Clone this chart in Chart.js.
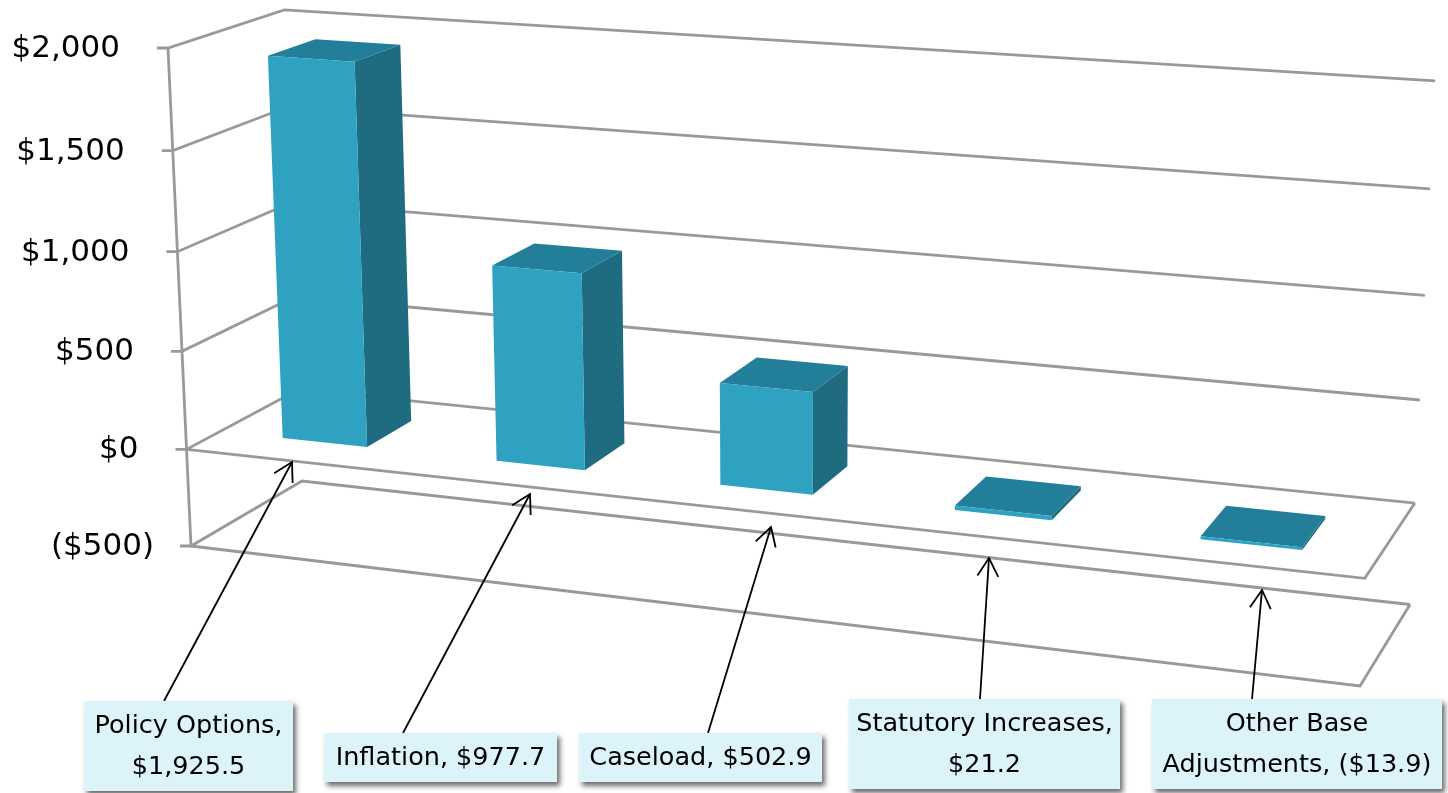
<!DOCTYPE html>
<html>
<head>
<meta charset="utf-8">
<title>Budget changes</title>
<script src="https://cdn.jsdelivr.net/npm/chart.js@4/dist/chart.umd.min.js"></script>
<style>
  html, body { margin: 0; padding: 0; background: #fff; overflow: hidden; }
  canvas { display: block; }
</style>
</head>
<body>
<canvas id="budgetChart" width="1448" height="793"></canvas>
<script>
const categories = ['Policy Options', 'Inflation', 'Caseload', 'Statutory Increases', 'Other Base Adjustments'];
const amounts = [1925.5, 977.7, 502.9, 21.2, -13.9];
const axisMin = -500;
const axisMax = 2000;
const axisStep = 500;

// how each callout text is broken into lines
const calloutBreaks = [
  ['Policy Options,', '$1,925.5'],
  ['Inflation, $977.7'],
  ['Caseload, $502.9'],
  ['Statutory Increases,', '$21.2'],
  ['Other Base', 'Adjustments, ($13.9)']
];
// box x, y, w, h and the arrow from the box edge to its tip
const calloutBoxes = [[84, 701, 209, 90], [324, 733, 233, 49], [579, 733, 243, 49], [849, 699, 271, 90], [1152, 699, 290, 90]];
const calloutArrows = [[164, 701, 292, 462], [403, 733, 530, 494], [708, 733, 771, 527], [980, 699, 989, 558], [1252, 699, 1262, 590]];

// screen corners of the floor at the lowest axis value
const floorCorners = { fl: [191, 546], fr: [1360, 686], br: [1410, 604.5], bl: [302, 481] };
// vanishing point of the vertical edges, and how fast they run towards it
const verticalVanish = [790, 13515];
const verticalRate = -0.03698;
const barDepthFront = 0.29;
const barDepthBack = 0.71;

// u along the categories, t up the value axis (0..1), d into the depth
function project(u, t, d) {
  const p0 = floorCorners.fl, p1 = floorCorners.fr, p2 = floorCorners.br, p3 = floorCorners.bl;
  const dx1 = p1[0] - p2[0], dx2 = p3[0] - p2[0], sx = p0[0] - p1[0] + p2[0] - p3[0];
  const dy1 = p1[1] - p2[1], dy2 = p3[1] - p2[1], sy = p0[1] - p1[1] + p2[1] - p3[1];
  const den = dx1 * dy2 - dx2 * dy1;
  const g = (sx * dy2 - dx2 * sy) / den;
  const h = (dx1 * sy - sx * dy1) / den;
  const a = p1[0] - p0[0] + g * p1[0], b = p3[0] - p0[0] + h * p3[0];
  const c = p1[1] - p0[1] + g * p1[1], e = p3[1] - p0[1] + h * p3[1];
  const k = t * verticalRate;
  const q = g * u + h * d + 1 + k;
  return [(a * u + b * d + p0[0] + k * verticalVanish[0]) / q, (c * u + e * d + p0[1] + k * verticalVanish[1]) / q];
}

function poly(ctx, pts, fill) {
  ctx.beginPath();
  pts.forEach((p, i) => i ? ctx.lineTo(p[0], p[1]) : ctx.moveTo(p[0], p[1]));
  ctx.closePath();
  ctx.fillStyle = fill;
  ctx.fill();
}

function line(ctx, pts) {
  ctx.beginPath();
  pts.forEach((p, i) => i ? ctx.lineTo(p[0], p[1]) : ctx.moveTo(p[0], p[1]));
  ctx.stroke();
}

const box3d = {
  id: 'box3d',
  beforeDatasetsDraw(chart) {
    const ctx = chart.ctx, y = chart.scales.y, area = chart.chartArea;
    ctx.save();
    ctx.strokeStyle = '#999999';
    ctx.lineWidth = 2.8;
    ctx.lineJoin = 'miter';
    y.ticks.forEach(tick => {
      const t = (area.bottom - y.getPixelForValue(tick.value)) / area.height;
      const fl = project(0, t, 0);
      line(ctx, [[fl[0] - 11, fl[1]], fl, project(0, t, 1), project(1, t, 1)]);
      if (tick.value <= 0) {
        line(ctx, [fl, project(1, t, 0), project(1, t, 1)]);
      }
    });
    line(ctx, [project(0, 1, 0), project(0, 0, 0)]);
    ctx.restore();
  },
  afterDatasetsDraw(chart) {
    const ctx = chart.ctx, area = chart.chartArea, y = chart.scales.y;
    const norm = px => (area.bottom - px) / area.height;
    ctx.save();
    chart.getDatasetMeta(0).data.forEach(el => {
      const u0 = (el.x - el.width / 2 - area.left) / area.width;
      const u1 = (el.x + el.width / 2 - area.left) / area.width;
      const top = norm(Math.min(el.y, el.base));
      const bot = norm(Math.max(el.y, el.base));
      const f = barDepthFront, b = barDepthBack;
      poly(ctx, [project(u0, top, f), project(u1, top, f), project(u1, top, b), project(u0, top, b)], '#237F99');
      poly(ctx, [project(u1, top, f), project(u1, top, b), project(u1, bot, b), project(u1, bot, f)], '#1F6C80');
      poly(ctx, [project(u0, top, f), project(u1, top, f), project(u1, bot, f), project(u0, bot, f)], '#2EA2C0');
    });
    ctx.restore();

    // value axis labels follow the slanted front edge
    ctx.save();
    ctx.fillStyle = '#000';
    ctx.font = '31px "DejaVu Sans"';
    ctx.textAlign = 'right';
    ctx.textBaseline = 'middle';
    y.ticks.forEach(tick => {
      const t = norm(y.getPixelForValue(tick.value));
      const p = project(0, t, 0);
      const gap = tick.label.startsWith('(') ? 37 : 48;
      ctx.fillText(tick.label, p[0] - gap, p[1] + 1);
    });
    ctx.restore();

    // callouts
    calloutBoxes.forEach((bx, i) => {
      const arrow = calloutArrows[i];
      ctx.save();
      ctx.strokeStyle = '#000';
      ctx.lineWidth = 1.8;
      const ang = Math.atan2(arrow[3] - arrow[1], arrow[2] - arrow[0]);
      line(ctx, [[arrow[0], arrow[1]], [arrow[2], arrow[3]]]);
      const wing = s => [arrow[2] - 21 * Math.cos(ang + s), arrow[3] - 21 * Math.sin(ang + s)];
      line(ctx, [wing(0.52), [arrow[2], arrow[3]], wing(-0.52)]);
      ctx.shadowColor = 'rgba(60,60,60,0.75)';
      ctx.shadowBlur = 5;
      ctx.shadowOffsetX = 3;
      ctx.shadowOffsetY = 4;
      ctx.fillStyle = '#DCF4F9';
      ctx.fillRect(bx[0], bx[1], bx[2], bx[3]);
      ctx.restore();
      ctx.save();
      ctx.fillStyle = '#000';
      ctx.font = '25.5px "DejaVu Sans"';
      ctx.textAlign = 'center';
      ctx.textBaseline = 'middle';
      const lines = calloutBreaks[i];
      const cy = bx[1] + bx[3] / 2 + 1;
      lines.forEach((txt, k) => {
        ctx.fillText(txt, bx[0] + bx[2] / 2, cy + (k - (lines.length - 1) / 2) * 41);
      });
      ctx.restore();
    });
  }
};

new Chart(document.getElementById('budgetChart'), {
  type: 'bar',
  data: {
    labels: categories,
    datasets: [{ data: amounts, backgroundColor: 'transparent', borderWidth: 0, barPercentage: 0.4, categoryPercentage: 1 }]
  },
  options: {
    responsive: false,
    animation: false,
    layout: { padding: { left: 0, right: 0, top: 48, bottom: 247 } },
    plugins: { legend: { display: false }, tooltip: { enabled: false } },
    scales: {
      x: { display: false },
      y: {
        display: false,
        min: axisMin,
        max: axisMax,
        ticks: {
          stepSize: axisStep,
          callback: v => (v < 0 ? '($' + Math.abs(v).toLocaleString('en-US') + ')' : '$' + v.toLocaleString('en-US'))
        }
      }
    }
  },
  plugins: [box3d]
});
</script>
</body>
</html>
